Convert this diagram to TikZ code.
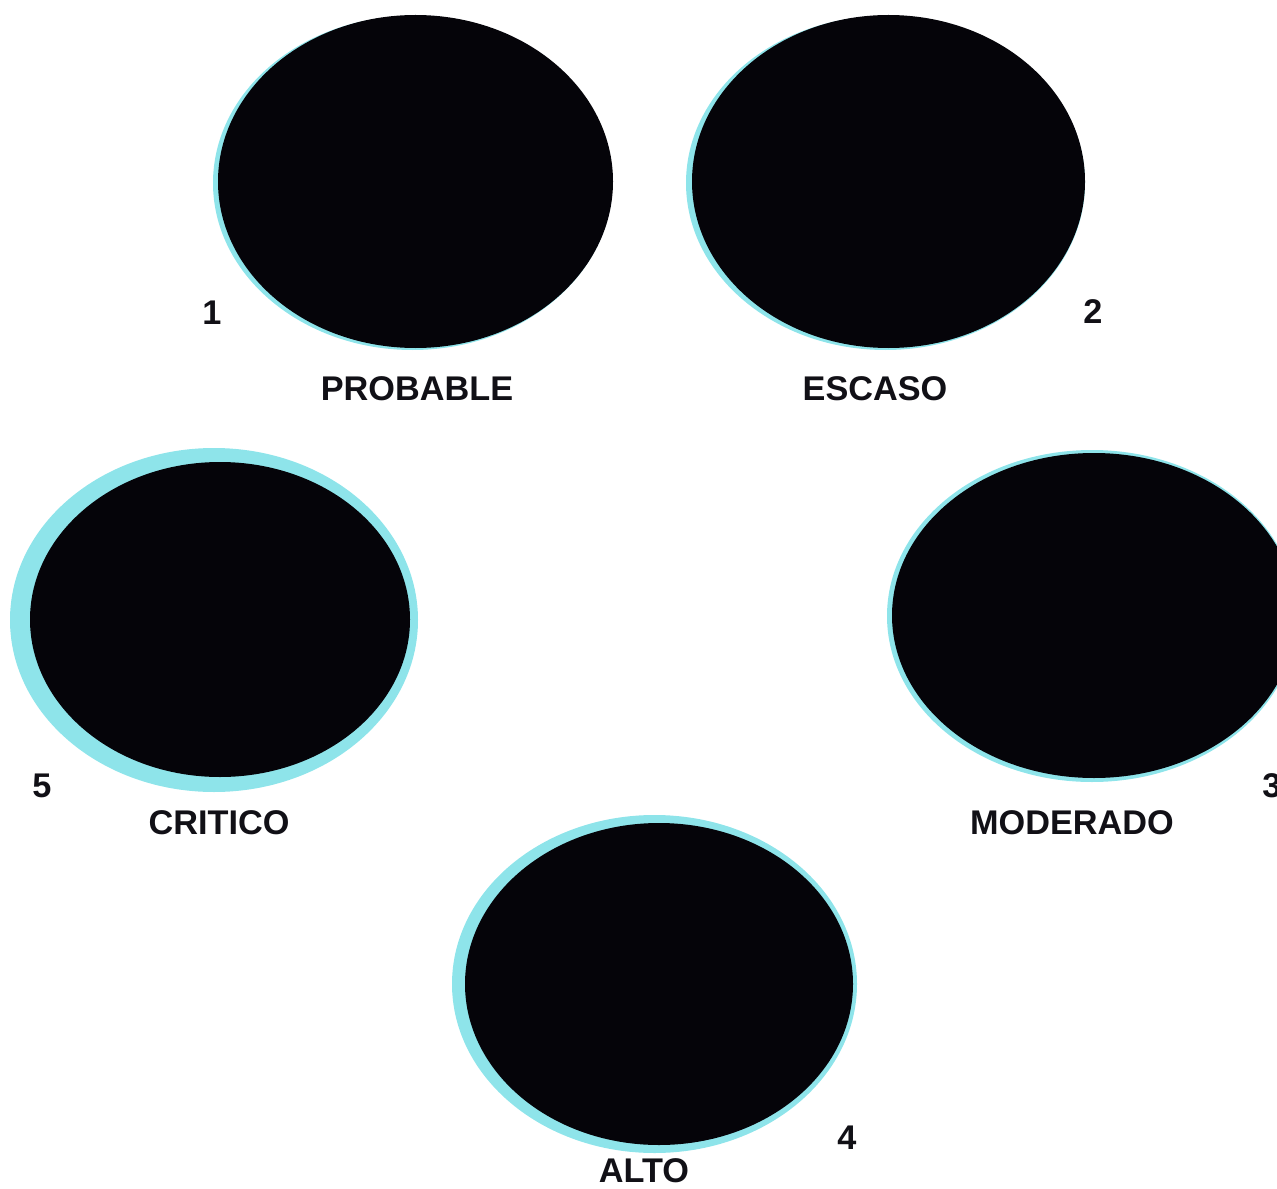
\documentclass[tikz,border=0pt]{standalone}
\usepackage{fontspec}
\setmainfont{Liberation Sans}
\usetikzlibrary{positioning}
\definecolor{riskDisc}{HTML}{050409}
\definecolor{riskRim}{HTML}{8EE4EA}
\definecolor{riskInk}{HTML}{111016}
\tikzset{
  rim/.style={fill=riskRim},
  disc/.style={fill=riskDisc},
  risklabel/.style={font=\fontsize{19.5}{21}\selectfont\bfseries, text=riskInk, inner sep=0pt},
  numlabel/.style={font=\fontsize{19.5}{21}\selectfont\bfseries, text=riskInk, inner sep=0pt},
}

\begin{document}
\begin{tikzpicture}[x=0.02cm, y=-0.02cm]
  \useasboundingbox (0,0) rectangle (1277,1189);
  \clip (0,0) rectangle (1277,1189);

  % ===== Cyan rims behind the discs =====
  \foreach \cx/\cy/\rx/\ry in {412.5/183/199.5/167, 885.5/183/199.5/167, 214/620/204/172,
                               1092/616/205/166, 654.5/984/202.5/169} {
    \fill[rim] (\cx,\cy) ellipse ({\rx} and {\ry});
  }

  % ===== Dark discs =====
  \foreach \cx/\cy/\rx/\ry in {415.5/181.5/197.5/166.5, 888.5/181.5/196.5/166.5,
                               220/619.5/190/157.5, 1094/615.5/202/162.5, 659/984/194/161} {
    \fill[disc] (\cx,\cy) ellipse ({\rx} and {\ry});
  }

  % ===== Numbers =====
  \node[numlabel] (num1) at (212,313) {1};
  \node[numlabel] (num2) at (1093,312) {2};
  \node[numlabel] (num3) at (1272,786) {3};
  \node[numlabel] (num4) at (847,1138) {4};
  \node[numlabel] (num5) at (42,786) {5};

  % ===== Risk levels =====
  \node[risklabel] (probable) at (417,389) {PROBABLE};
  \node[risklabel] (escaso) at (875,389) {ESCASO};
  \node[risklabel] (critico) at (219,823) {CRITICO};
  \node[risklabel] (moderado) at (1072,823) {MODERADO};
  \node[risklabel] (alto) at (644,1171) {ALTO};
\end{tikzpicture}
\end{document}
